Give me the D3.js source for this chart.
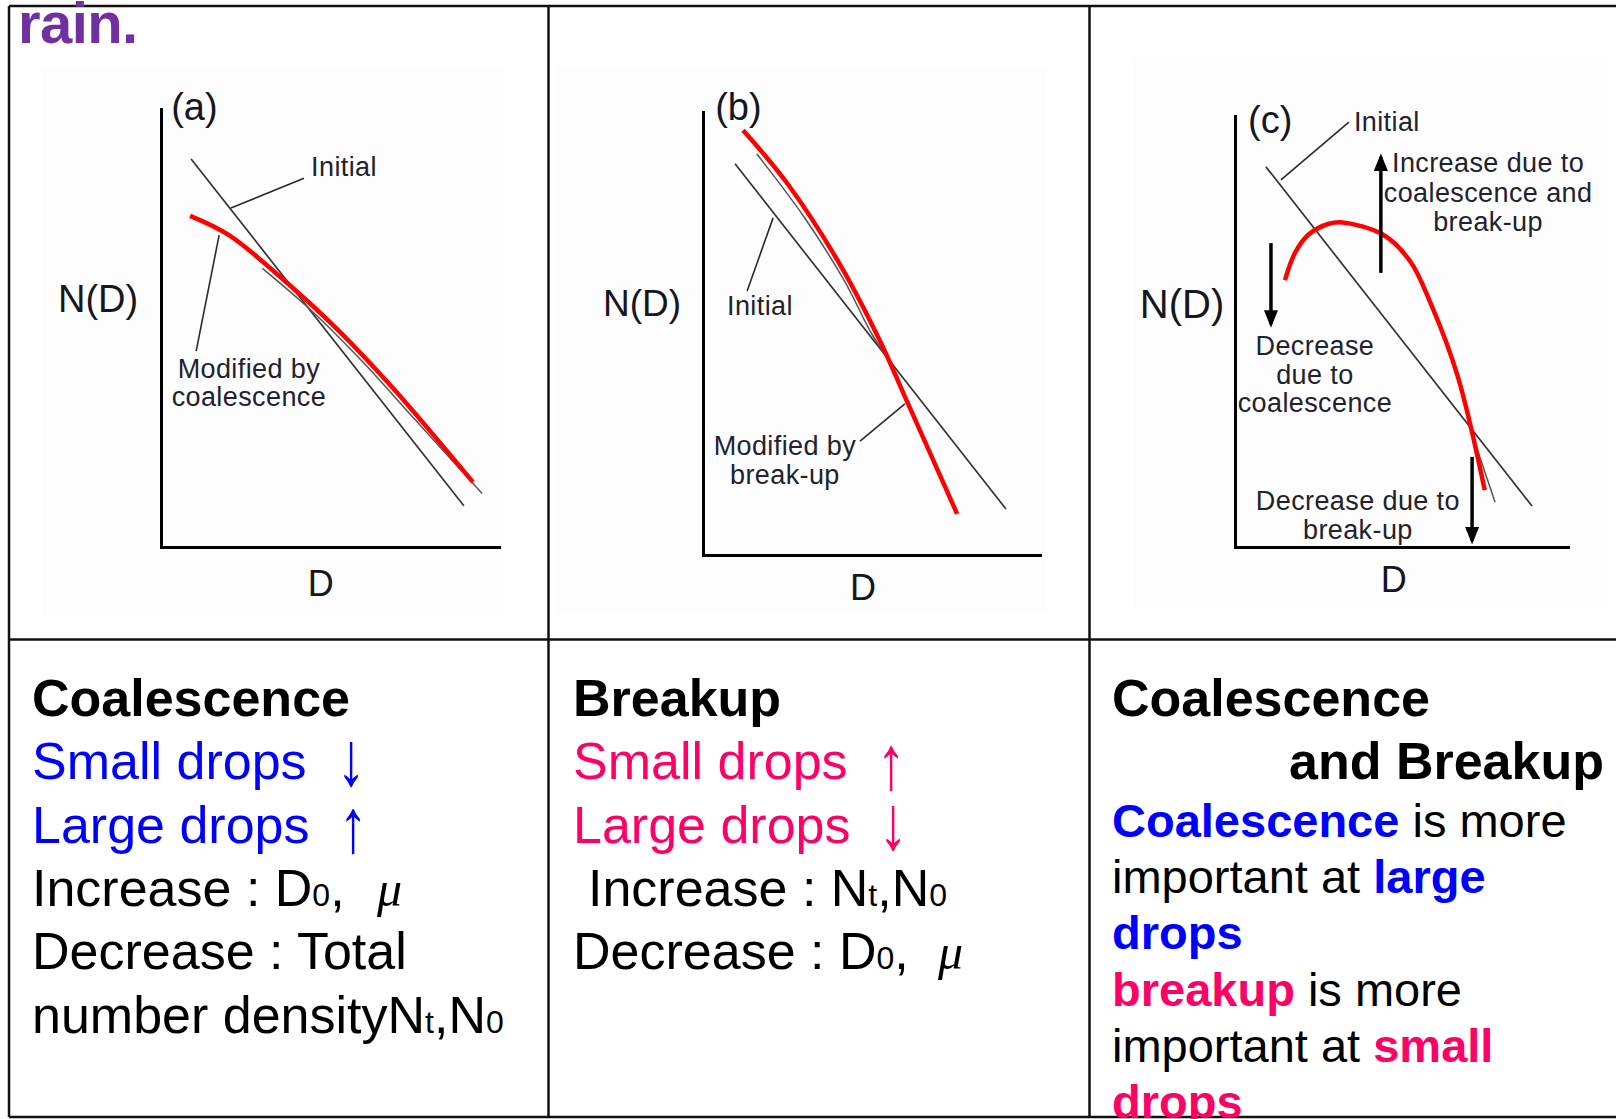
<!DOCTYPE html>
<html>
<head>
<meta charset="utf-8">
<script src="https://cdn.jsdelivr.net/npm/d3@7"></script>
<style>
  html, body { margin: 0; padding: 0; background: #fff; overflow: hidden; }
  svg { display: block; }
  text { font-family: "Liberation Sans", Arial, sans-serif; }
</style>
</head>
<body>
<script>
"use strict";

// ---- data (D on x, N(D) on y, both in arbitrary 0..10 units) ----
const panelTags = ["(a)", "(b)", "(c)"];

const initialA = [[0.89, 8.86], [8.96, 0.94]];
const initialB = [[0.95, 8.83], [8.99, 1.04]];
const initialC = [[0.93, 8.82], [8.92, 0.95]];

const modifiedA = [[0.86, 7.56], [2.01, 7.12], [3.70, 6.05], [5.27, 4.93], [6.86, 3.63], [9.23, 1.48]];
const modifiedB = [[1.19, 9.59], [2.52, 8.37], [4.07, 6.55], [5.22, 4.88], [6.14, 3.32], [7.54, 0.93]];
const modifiedC = [[1.50, 6.19], [1.80, 6.82], [2.21, 7.25], [2.82, 7.50], [3.23, 7.53], [4.44, 7.25],
                   [5.26, 6.63], [5.86, 5.68], [6.68, 3.98], [7.50, 1.32]];

// thin grey copy of the modified curve peeking out under the red one
const shadowA = [[3.0, 6.36], [4.5, 5.36], [6.0, 4.20], [7.5, 2.92], [9.5, 1.22]];
const shadowB = [[1.6, 9.05], [3.0, 7.63], [4.2, 6.18], [5.0, 5.00], [5.5, 4.42]];
const shadowC = [[7.18, 2.48], [7.81, 1.04]];

const leadersA = [[[2.07, 7.74], [4.23, 8.42]], [[1.72, 7.12], [1.04, 4.47]]];
const leadersB = [[[2.08, 7.61], [1.31, 5.96]], [[5.99, 3.41], [4.66, 2.57]]];
const leadersC = [[[1.38, 8.52], [3.42, 9.86]]];

const arrowsC = [[[4.38, 6.36], [4.38, 9.05]], [[1.08, 7.05], [1.08, 5.17]], [[7.12, 2.09], [7.12, 0.14]]];

// annotation texts: [lines, D anchor, N baselines, anchor]
const notesA = [[["Initial"], 4.44, [8.47], "start"],
                [["Modified by", "coalescence"], 2.60, [3.86, 3.22], "middle"]];
const notesB = [[["Initial"], 1.69, [5.42], "middle"],
                [["Modified by", "break-up"], 2.43, [2.26, 1.60], "middle"]];
const notesC = [[["Initial"], 3.57, [9.65], "start"],
                [["Increase due to", "coalescence and", "break-up"], 7.60, [8.70, 8.00, 7.33], "middle"],
                [["Decrease", "due to", "coalescence"], 2.40, [4.45, 3.78, 3.13], "middle"],
                [["Decrease due to", "break-up"], 3.69, [0.86, 0.19], "middle"]];

// ---- layout ----
const W = 1616, H = 1119;
const blue = "#0000ff", pink = "#ff0066", purple = "#7030a0";

const panels = [
  {tag: panelTags[0], box: [161, 499, 547, 109], bg: [42, 67, 463, 549], tagAt: [0.30, 9.75],
   ndAt: [-1.86, 5.37], ndSize: 38, dAt: [4.73, -1.12],
   initial: initialA, modified: modifiedA, shadow: shadowA, leaders: leadersA, notes: notesA, arrows: []},
  {tag: panelTags[1], box: [703, 1040, 555, 112], bg: [556, 67, 490, 546], tagAt: [0.36, 9.82],
   ndAt: [-1.81, 5.40], ndSize: 37, dAt: [4.75, -1.02],
   initial: initialB, modified: modifiedB, shadow: shadowB, leaders: leadersB, notes: notesB, arrows: []},
  {tag: panelTags[2], box: [1235, 1568, 547, 116], bg: [1134, 57, 474, 551], tagAt: [0.39, 9.61],
   ndAt: [-1.59, 5.31], ndSize: 40, dAt: [4.77, -1.04],
   initial: initialC, modified: modifiedC, shadow: shadowC, leaders: leadersC, notes: notesC, arrows: arrowsC}
];

const svg = d3.select("body").append("svg").attr("width", W).attr("height", H);

svg.append("defs").append("marker")
   .attr("id", "head")
   .attr("viewBox", "0 0 10 8")
   .attr("refX", 8).attr("refY", 4)
   .attr("markerWidth", 5).attr("markerHeight", 4)
   .attr("markerUnits", "strokeWidth")
   .attr("orient", "auto")
   .append("path").attr("d", "M0,0L10,4L0,8Z").attr("fill", "#000");

function drawPanel(p)
{
  const [left, right, bottom, top] = p.box;
  const x = d3.scaleLinear().domain([0, 10]).range([left, right]);
  const y = d3.scaleLinear().domain([0, 10]).range([bottom, top]);
  const g = svg.append("g");
  const line = d3.line().x(d => x(d[0])).y(d => y(d[1]));
  const smooth = d3.line().x(d => x(d[0])).y(d => y(d[1])).curve(d3.curveCatmullRom.alpha(0.5));

  g.append("rect").attr("x", p.bg[0]).attr("y", p.bg[1])
   .attr("width", p.bg[2]).attr("height", p.bg[3]).attr("fill", "#fdfdfd");

  g.append("g").attr("transform", "translate(0," + bottom + ")")
   .call(d3.axisBottom(x).ticks(0).tickSizeOuter(0));
  g.append("g").attr("transform", "translate(" + left + ",0)")
   .call(d3.axisLeft(y).ticks(0).tickSizeOuter(0));
  g.selectAll(".domain").attr("stroke", "#000").attr("stroke-width", 3).attr("stroke-linecap", "square");

  g.append("path").attr("d", line(p.initial)).attr("fill", "none")
   .attr("stroke", "#333").attr("stroke-width", 1.7);
  g.append("path").attr("d", smooth(p.shadow)).attr("fill", "none")
   .attr("stroke", "#555").attr("stroke-width", 1.5);
  p.leaders.forEach(l => g.append("path").attr("d", line(l)).attr("fill", "none")
   .attr("stroke", "#2a2a2a").attr("stroke-width", 1.6));
  g.append("path").attr("d", smooth(p.modified)).attr("fill", "none")
   .attr("stroke", "#ff0000").attr("stroke-width", 4.5);

  p.arrows.forEach(a => g.append("path").attr("d", line(a)).attr("fill", "none")
   .attr("stroke", "#000").attr("stroke-width", 3.5).attr("marker-end", "url(#head)"));

  const ink = "#161620";
  g.append("text").attr("x", x(p.tagAt[0])).attr("y", y(p.tagAt[1]))
   .attr("font-size", 38).attr("fill", ink).text(p.tag);
  g.append("text").attr("x", x(p.ndAt[0])).attr("y", y(p.ndAt[1])).attr("text-anchor", "middle")
   .attr("font-size", p.ndSize).attr("fill", ink).text("N(D)");
  g.append("text").attr("x", x(p.dAt[0])).attr("y", y(p.dAt[1])).attr("text-anchor", "middle")
   .attr("font-size", 36).attr("fill", ink).text("D");

  p.notes.forEach(([lines, d, ns, anchor]) =>
  {
    lines.forEach((t, i) => g.append("text")
      .attr("x", x(d)).attr("y", y(ns[i])).attr("text-anchor", anchor)
      .attr("font-size", 27).attr("fill", "#22222e").attr("letter-spacing", 0.4).text(t));
  });
}

panels.forEach(drawPanel);

// ---- table frame ----
const frame = svg.append("g").attr("stroke", "#111").attr("stroke-width", 2.5);
[[9, 6, 1620, 6], [9, 639.5, 1620, 639.5], [9, 1117, 1620, 1117],
 [9, 6, 9, 1117], [548.5, 6, 548.5, 1117], [1089.5, 6, 1089.5, 1117]]
  .forEach(s => frame.append("line").attr("x1", s[0]).attr("y1", s[1]).attr("x2", s[2]).attr("y2", s[3]));

svg.append("text").attr("x", 18).attr("y", 43).attr("font-size", 58).attr("font-weight", "bold")
   .attr("letter-spacing", -0.6).attr("fill", purple).text("rain.");

// ---- text cells ----
// segment: [text, options]  options: b bold, c colour, s size, x absolute x, mu greek
function writeLine(x0, y0, size, segs)
{
  const t = svg.append("text").attr("x", x0).attr("y", y0).attr("font-size", size).attr("fill", "#000")
               .attr("xml:space", "preserve").style("white-space", "pre");
  segs.forEach(([txt, o]) =>
  {
    o = o || {};
    const s = t.append("tspan").text(txt);
    if (o.b) s.attr("font-weight", "bold");
    if (o.c) s.attr("fill", o.c);
    if (o.s) s.attr("font-size", o.s);
    if (o.x) s.attr("x", o.x);
    if (o.mu) s.attr("font-family", "'Liberation Serif', 'DejaVu Serif', serif")
               .attr("font-style", "italic").attr("font-size", 50);
  });
}

// thin arrow glyphs next to the drop lines, stretched vertically so the stem stays thin
function arrowGlyph(cx, base, ch, colour)
{
  svg.append("text").attr("transform", "translate(" + cx + "," + base + ") scale(1,1.32)")
     .attr("text-anchor", "middle")
     .attr("font-family", "'Noto Sans CJK KR', 'Liberation Sans', sans-serif")
     .attr("font-size", 58).attr("fill", colour).text(ch);
}

const sub = 32;
writeLine(32, 716, 52, [["Coalescence", {b: 1}]]);
writeLine(32, 779, 52, [["Small drops", {c: blue}]]);
writeLine(32, 843, 52, [["Large drops", {c: blue}]]);
writeLine(32, 906, 52, [["Increase : D"], ["0", {s: sub}], [","], ["μ", {mu: 1, x: 377}]]);
writeLine(32, 969, 52, [["Decrease : Total"]]);
writeLine(32, 1033, 52, [["number densityN"], ["t", {s: sub}], [",N"], ["0", {s: sub}]]);
arrowGlyph(351, 785, "↓", blue);
arrowGlyph(353, 852, "↑", blue);

writeLine(573, 716, 52, [["Breakup", {b: 1}]]);
writeLine(573, 779, 52, [["Small drops", {c: pink}]]);
writeLine(573, 843, 52, [["Large drops", {c: pink}]]);
writeLine(588, 906, 52, [["Increase : N"], ["t", {s: sub}], [",N"], ["0", {s: sub}]]);
writeLine(573, 969, 52, [["Decrease : D"], ["0", {s: sub}], [","], ["μ", {mu: 1, x: 938}]]);
arrowGlyph(891, 789, "↑", pink);
arrowGlyph(893, 849, "↓", pink);

writeLine(1112, 716, 52, [["Coalescence", {b: 1}]]);
writeLine(1289, 779, 52, [["and Breakup", {b: 1}]]);
writeLine(1112, 837, 47, [["Coalescence", {b: 1, c: blue}], [" is more"]]);
writeLine(1112, 893, 47, [["important at "], ["large", {b: 1, c: blue}]]);
writeLine(1112, 949, 47, [["drops", {b: 1, c: blue}]]);
writeLine(1112, 1006, 47, [["breakup", {b: 1, c: pink}], [" is more"]]);
writeLine(1112, 1062, 47, [["important at "], ["small", {b: 1, c: pink}]]);
writeLine(1112, 1118, 47, [["drops", {b: 1, c: pink}]]);
</script>
</body>
</html>
